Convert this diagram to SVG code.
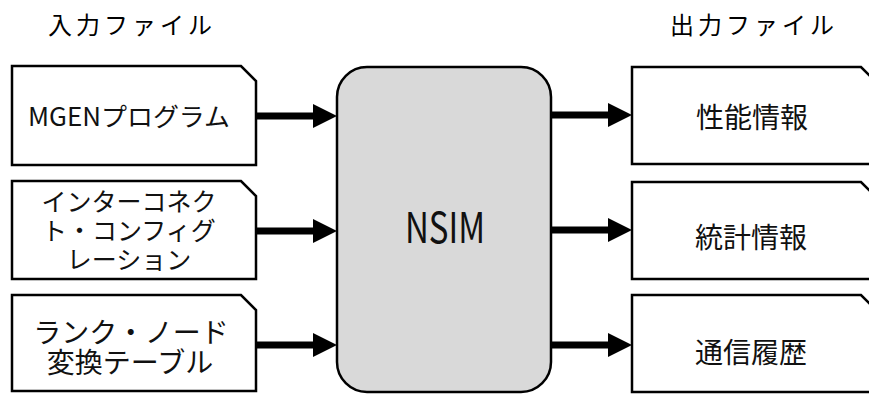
<svg xmlns="http://www.w3.org/2000/svg" width="869" height="394" viewBox="0 0 869 394">
<style>
.doc{fill:#fff;stroke:#000;stroke-width:2.5;stroke-linejoin:miter}
.core{fill:#d9d9d9;stroke:#000;stroke-width:2.5}
.t{font-family:"Noto Sans CJK JP","Noto Sans CJK SC",sans-serif;fill:#111;text-anchor:middle}
.title{font-size:24px;letter-spacing:4px;fill:#000}
.conn{stroke:#000;stroke-width:7;fill:none;marker-end:url(#ah)}
</style>
<defs>
<marker id="ah" markerUnits="userSpaceOnUse" markerWidth="24" markerHeight="24" refX="4" refY="12" orient="auto">
<path d="M0,0 L24,12 L0,24 Z" fill="#000"/>
</marker>
</defs>
<text class="t title" x="132" y="34">入力ファイル</text>
<text class="t title" x="754" y="34">出力ファイル</text>

<g id="in-mgen">
<path class="doc" d="M12,66 H241 L256,81 V165 H12 Z"/>
<text class="t" x="129" y="126" font-size="25" textLength="202" lengthAdjust="spacingAndGlyphs">MGENプログラム</text>
</g>
<g id="in-config">
<path class="doc" d="M12,181 H241 L256,196 V279 H12 Z"/>
<text class="t" font-size="25"><tspan x="129" y="211">インターコネク</tspan><tspan x="129" y="240">ト・コンフィグ</tspan><tspan x="129" y="269">レーション</tspan></text>
</g>
<g id="in-rank">
<path class="doc" d="M12,295 H241 L256,310 V391 H12 Z"/>
<text class="t" font-size="28"><tspan x="131" y="343">ランク・ノード</tspan><tspan x="130" y="373">変換テーブル</tspan></text>
</g>

<g id="nsim">
<rect class="core" x="337" y="67" width="214" height="325" rx="30" ry="30"/>
<text class="t" x="445" y="243" font-size="42" textLength="80" lengthAdjust="spacingAndGlyphs">NSIM</text>
</g>

<g id="out-perf">
<path class="doc" d="M632,67 H861 L876,82 V164 H632 Z"/>
<text class="t" x="752" y="128" font-size="28">性能情報</text>
</g>
<g id="out-stat">
<path class="doc" d="M632,182 H861 L876,197 V279 H632 Z"/>
<text class="t" x="751" y="248" font-size="28">統計情報</text>
</g>
<g id="out-hist">
<path class="doc" d="M632,295 H861 L876,310 V392 H632 Z"/>
<text class="t" x="751" y="363" font-size="28">通信履歴</text>
</g>

<g id="connectors">
<path class="conn" d="M257,116 H317"/>
<path class="conn" d="M257,231 H317"/>
<path class="conn" d="M257,345 H317"/>
<path class="conn" d="M551,115 H612"/>
<path class="conn" d="M551,230 H612"/>
<path class="conn" d="M551,345 H612"/>
</g>
</svg>
